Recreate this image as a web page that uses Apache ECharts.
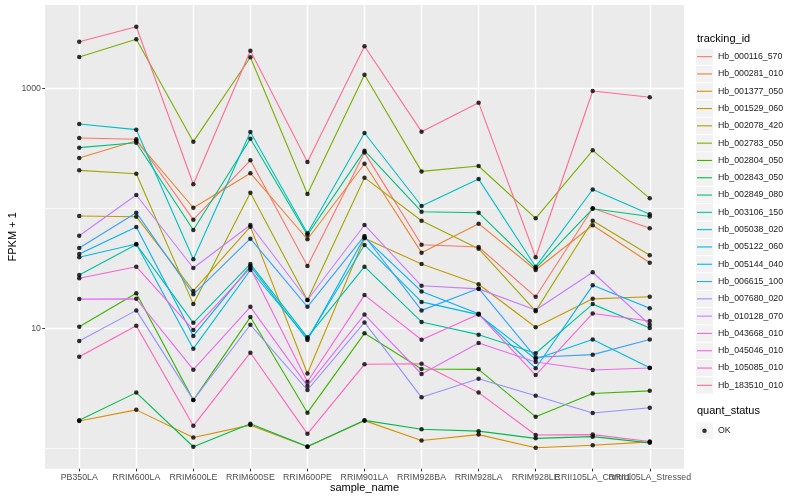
<!DOCTYPE html>
<html><head><meta charset="utf-8">
<script src="https://cdn.jsdelivr.net/npm/echarts@6/dist/echarts.min.js"></script>
<style>html,body{margin:0;padding:0;background:#fff}#c{width:800px;height:500px}</style>
</head><body><div id="c"></div>
<script>
// ---- data ----
const categories = ['PB350LA','RRIM600LA','RRIM600LE','RRIM600SE','RRIM600PE','RRIM901LA','RRIM928BA','RRIM928LA','RRIM928LE','RRII105LA_Control','RRII105LA_Stressed'];
const trackingIds = ['Hb_000116_570','Hb_000281_010','Hb_001377_050','Hb_001529_060','Hb_002078_420','Hb_002783_050','Hb_002804_050','Hb_002843_050','Hb_002849_080','Hb_003106_150','Hb_005038_020','Hb_005122_060','Hb_005144_040','Hb_006615_100','Hb_007680_020','Hb_010128_070','Hb_043668_010','Hb_045046_010','Hb_105085_010','Hb_183510_010'];
const trackingColors = ['#F8766D','#EA8331','#D89000','#C09B00','#A3A500','#7CAE00','#39B600','#00BB4E','#00BF7D','#00C1A3','#00BFC4','#00BAE0','#00B0F6','#35A2FF','#9590FF','#C77CFF','#E76BF3','#FA62DB','#FF62BC','#FF6C91'];
const Hb_000116_570 = [385, 376, 80.4, 251, 33.0, 291, 49.7, 47.6, 18.3, 100, 68.1];
const Hb_000281_010 = [262, 366, 101, 196, 55.2, 235, 42.7, 74.4, 30.6, 72.2, 35.2];
const Hb_001377_050 = [1.69, 2.09, 1.23, 1.56, 1.03, 1.70, 1.16, 1.30, 1.01, 1.06, 1.13];
const Hb_001529_060 = [86.3, 85.1, 20.5, 70.3, 4.2, 56.2, 34.4, 23.3, 10.2, 17.6, 18.3];
const Hb_002078_420 = [207, 194, 15.9, 135, 17.2, 180, 78.8, 46.1, 13.9, 78.8, 40.6];
const Hb_002783_050 = [1824, 2559, 359, 1812, 131.5, 1298, 203, 225, 82.5, 304, 121];
const Hb_002804_050 = [10.3, 19.6, 2.52, 12.4, 1.98, 9.08, 4.58, 4.55, 1.83, 2.86, 3.01];
const Hb_002843_050 = [1.71, 2.91, 1.03, 1.60, 1.035, 1.71, 1.44, 1.39, 1.21, 1.25, 1.11];
const Hb_002849_080 = [320, 352, 65.9, 380, 59.9, 302, 93.7, 91.9, 31.6, 99, 85.4];
const Hb_003106_150 = [27.8, 50, 11.1, 34.4, 8.41, 32.6, 11.3, 8.85, 6.19, 15.9, 10.06];
const Hb_005038_020 = [504, 452, 37.6, 432, 61.9, 424, 104.5, 175, 32.6, 143.5, 89.1];
const Hb_005122_060 = [39.1, 50.4, 6.76, 30.6, 8.22, 49.5, 16.6, 13.0, 5.55, 8.07, 4.69];
const Hb_005144_040 = [41.6, 69.8, 8.63, 33.0, 7.99, 57.3, 20.3, 13.2, 4.64, 22.8, 14.7];
const Hb_006615_100 = [46.7, 91.9, 19.2, 55.8, 15.1, 58.8, 14.1, 21.5, 5.73, 6.03, 8.07];
const Hb_007680_020 = [7.84, 14.1, 2.53, 10.7, 3.06, 11.2, 2.66, 3.80, 2.74, 1.97, 2.18];
const Hb_010128_070 = [59.1, 129, 31.8, 72.6, 17.2, 72.6, 22.6, 21.3, 14.2, 29.3, 10.7];
const Hb_043668_010 = [17.5, 17.6, 4.52, 15.1, 3.31, 13.0, 4.16, 7.54, 5.24, 4.49, 4.67];
const Hb_045046_010 = [26.1, 32.6, 9.68, 31.8, 3.59, 18.9, 8.03, 13.1, 4.08, 13.3, 11.5];
const Hb_105085_010 = [5.80, 10.5, 1.54, 6.26, 1.32, 5.01, 5.07, 2.91, 1.29, 1.30, 1.14];
const Hb_183510_010 = [2443, 3260, 158.5, 2056, 243, 2239, 435, 759, 39.1, 950, 841];
const yMajorTickLabels = ['10', '1000'];
const quantStatus = ['OK'];

const seriesValues = [Hb_000116_570, Hb_000281_010, Hb_001377_050, Hb_001529_060, Hb_002078_420, Hb_002783_050, Hb_002804_050, Hb_002843_050, Hb_002849_080, Hb_003106_150, Hb_005038_020, Hb_005122_060, Hb_005144_040, Hb_006615_100, Hb_007680_020, Hb_010128_070, Hb_043668_010, Hb_045046_010, Hb_105085_010, Hb_183510_010];

// ---- layout ----
const FONT = '"Liberation Sans", Arial, Helvetica, sans-serif';
const Y_MIN = 0.676, Y_MAX = 4943;
const PANEL = {left: 45, top: 5, width: 639, height: 463.7};
const step = PANEL.width / (categories.length - 1 + 1.2);
const dataLeft = PANEL.left + 0.6 * step;
const dataWidth = (categories.length - 1) * step;

const BOX_ICON = 'path://M0,0M17,17.3M0,0.5h17v16.3H0z';
const LINE_ICON = 'path://M0,0M17,17.3M1,8.1h15v1.1H1z';
const DOT_ICON = 'path://M0,0M17,17.3M8.5,6.4a2.25,2.25 0 1,1 0,4.5a2.25,2.25 0 1,1 0,-4.5z';

const chart = echarts.init(document.getElementById('c'), null, {renderer: 'canvas', width: 800, height: 500});

const lineSeries = seriesValues.map((vals, i) => ({
  type: 'line', name: trackingIds[i], xAxisIndex: 1, yAxisIndex: 2,
  data: vals, symbol: 'none', showSymbol: false,
  lineStyle: {color: trackingColors[i], width: 1.1},
  itemStyle: {color: trackingColors[i]},
  emphasis: {disabled: true}, silent: true, z: 2
}));

const pointData = [];
seriesValues.forEach(vals => vals.forEach((v, j) => pointData.push([categories[j], v])));

const legendBase = {
  orient: 'vertical', left: 696, padding: 0, itemWidth: 17, itemHeight: 17.3, itemGap: 0,
  selectedMode: false,
  textStyle: {fontSize: 8.8, color: '#1a1a1a', fontFamily: FONT}
};
const bgText = {fontSize: 8.8, color: 'rgba(0,0,0,0)', fontFamily: FONT};

const option = {
  animation: false,
  backgroundColor: '#ffffff',
  textStyle: {fontFamily: FONT},
  title: [
    {text: 'tracking_id', left: 697, top: 33, padding: 0, textStyle: {fontSize: 11, fontWeight: 'normal', color: '#000', fontFamily: FONT}},
    {text: 'quant_status', left: 697, top: 405, padding: 0, textStyle: {fontSize: 11, fontWeight: 'normal', color: '#000', fontFamily: FONT}}
  ],
  grid: [
    {left: PANEL.left, top: PANEL.top, width: PANEL.width, height: PANEL.height, show: true, backgroundColor: '#ebebeb', borderWidth: 0, outerBoundsMode: 'none'},
    {left: dataLeft, top: PANEL.top, width: dataWidth, height: PANEL.height, show: false, outerBoundsMode: 'none'}
  ],
  legend: [
    Object.assign({}, legendBase, {top: 48, data: trackingIds, icon: BOX_ICON, itemStyle: {color: '#f2f2f2', borderWidth: 0}, textStyle: bgText, z: 3}),
    Object.assign({}, legendBase, {top: 48, data: trackingIds, icon: LINE_ICON, itemStyle: {borderWidth: 0}, z: 4}),
    Object.assign({}, legendBase, {top: 422, data: quantStatus, icon: BOX_ICON, itemStyle: {color: '#f2f2f2', borderWidth: 0}, textStyle: bgText, z: 3}),
    Object.assign({}, legendBase, {top: 422, data: quantStatus, icon: DOT_ICON, itemStyle: {color: '#000', borderWidth: 0}, z: 4})
  ],
  xAxis: [
    {gridIndex: 0, type: 'value', show: false, min: 0, max: 1},
    {gridIndex: 1, type: 'category', data: categories, boundaryGap: false,
     axisLine: {show: false},
     axisTick: {show: true, length: 2.7, lineStyle: {color: '#333333', width: 1}},
     axisLabel: {interval: 0, margin: 4, fontSize: 8.8, color: '#4d4d4d', fontFamily: FONT, hideOverlap: false},
     splitLine: {show: true, lineStyle: {color: '#ffffff', width: 1.4}},
     name: 'sample_name', nameLocation: 'middle', nameGap: 14, nameMoveOverlap: false,
     nameTextStyle: {fontSize: 11, color: '#000', fontFamily: FONT}}
  ],
  yAxis: [
    {gridIndex: 0, type: 'log', logBase: 10, min: Y_MIN, max: Y_MAX, position: 'left',
     axisLine: {show: false}, axisTick: {show: false}, axisLabel: {show: false},
     splitLine: {show: true, showMinLine: false, showMaxLine: false, lineStyle: {color: '#ffffff', width: 0.7}}},
    {gridIndex: 0, type: 'log', logBase: 100, min: Y_MIN / 10, max: Y_MAX / 10, position: 'left',
     axisLine: {show: false},
     axisTick: {show: true, length: 2.7, lineStyle: {color: '#333333', width: 1}},
     axisLabel: {margin: 4, fontSize: 8.8, color: '#4d4d4d', fontFamily: FONT, showMinLabel: false, showMaxLabel: false,
       formatter: function (v) { const s = String(Math.round(v * 10)); return yMajorTickLabels.indexOf(s) >= 0 ? s : ''; }},
     splitLine: {show: true, showMinLine: false, showMaxLine: false, lineStyle: {color: '#ffffff', width: 1.4}},
     name: 'FPKM + 1', nameLocation: 'middle', nameGap: 27, nameRotate: 90, nameMoveOverlap: false,
     nameTextStyle: {fontSize: 11, color: '#000', fontFamily: FONT}},
    {gridIndex: 1, type: 'log', logBase: 10, min: Y_MIN, max: Y_MAX, show: false}
  ],
  series: lineSeries.concat([{
    type: 'scatter', name: 'OK', xAxisIndex: 1, yAxisIndex: 2, data: pointData,
    symbol: 'circle', symbolSize: 4.5, itemStyle: {color: '#000'}, silent: true, z: 5,
    emphasis: {disabled: true}
  }])
};
chart.setOption(option);
</script>
</body></html>
